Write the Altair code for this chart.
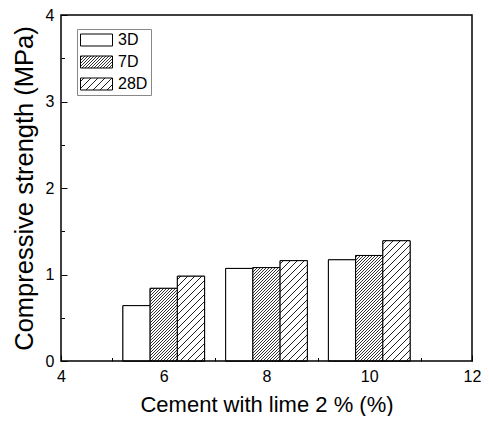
import altair as alt
import pandas as pd
import math

# ---- data ----
cement = [6, 8, 10]
series = ["3D", "7D", "28D"]
strength_3d = [0.64, 1.07, 1.17]
strength_7d = [0.84, 1.08, 1.22]
strength_28d = [0.98, 1.16, 1.39]
x_ticks = [4, 6, 8, 10, 12]
x_minor = [5, 7, 9, 11]
y_ticks = [0, 1, 2, 3, 4]
y_minor = [0.5, 1.5, 2.5, 3.5]
x_domain = [4, 12]
y_domain = [0, 4]

rows = []
for s_i, (name, vals) in enumerate(zip(series, [strength_3d, strength_7d, strength_28d])):
    for c, v in zip(cement, vals):
        rows.append({"cement": c, "series": name, "idx": s_i, "value": v})
df = pd.DataFrame(rows)

# ---- layout / style constants ----
W, H = 411, 346
BAR_W = 0.53                      # bar width in x units
PX_X = W / 8.0
PX_Y = H / 4.0
BW_PX = BAR_W * PX_X
FONT = "Liberation Sans, Arial, sans-serif"

# hatch stripes built as sharp linear-gradient stops (fixed pixel period)
LFIX = 170.0


def stripes(period, lw, color):
    stops = [{"offset": 0, "color": "white"}]
    d = period / 2.0
    while d + lw / 2 < LFIX:
        a = (d - lw / 2) / LFIX
        b = (d + lw / 2) / LFIX
        stops += [{"offset": round(a, 5), "color": "white"},
                  {"offset": round(a, 5), "color": color},
                  {"offset": round(b, 5), "color": color},
                  {"offset": round(b, 5), "color": "white"}]
        d += period
    stops.append({"offset": 1, "color": "white"})
    return stops


SQ2 = math.sqrt(2)
stops7 = alt.param(name="stops7", value=stripes(3.0 / SQ2, 0.8, "#333333"))
stops28 = alt.param(name="stops28", value=stripes(7.0 / SQ2, 0.85, "#222222"))

K = LFIX * SQ2


def grad_expr(w_expr, h_expr, stops_name):
    s = f"({K:.3f}/(pow({w_expr},2)+pow({h_expr},2)))"
    return (f"{{gradient:'linear',x1:0,y1:0,x2:{s}*{w_expr},"
            f"y2:{s}*{h_expr},stops:{stops_name}}}")


h_datum = f"(datum.value*{PX_Y:.4f})"
w_bar = f"{BW_PX:.4f}"
bar_grad = ("datum.series=='7D' ? " + grad_expr(w_bar, h_datum, "stops7") +
            " : datum.series=='28D' ? " + grad_expr(w_bar, h_datum, "stops28") +
            " : 'white'")
leg7 = grad_expr("32", "12", "stops7")
leg28 = grad_expr("32", "12", "stops28")

xscale = alt.Scale(domain=x_domain, nice=False, zero=False)
yscale = alt.Scale(domain=y_domain, nice=False, zero=False)

base = alt.Chart(df).transform_calculate(
    x0=f"datum.cement + (datum.idx - 1.5) * {BAR_W}",
    x1=f"datum.cement + (datum.idx - 1.5) * {BAR_W} + {BAR_W}",
    y0="0",
)

axis_common = dict(domain=False, grid=False, tickColor="black", tickWidth=1,
                   labelColor="black", titleColor="black", labelFont=FONT,
                   titleFont=FONT, titleFontWeight="normal", labelFlush=False,
                   labelOverlap=False, labelBound=False)

main = base.mark_bar(stroke="black", strokeWidth=1).encode(
    x=alt.X("x0:Q", scale=xscale,
            axis=alt.Axis(orient="bottom", offset=-6, tickSize=6, values=x_ticks,
                          labelFontSize=16, labelPadding=7,
                          title="Cement with lime 2 % (%)", titleFontSize=22,
                          titlePadding=10, **axis_common)),
    x2="x1:Q",
    y=alt.Y("value:Q", scale=yscale, stack=None,
            axis=alt.Axis(orient="left", offset=-6, tickSize=6, values=y_ticks,
                          labelFontSize=16, labelPadding=7,
                          title="Compressive strength (MPa)", titleFontSize=25.5,
                          titlePadding=8, **axis_common)),
    y2="y0:Q",
    fill=alt.Fill("series:N",
                  scale=alt.Scale(domain=series,
                                  range=["white", alt.ExprRef(leg7), alt.ExprRef(leg28)]),
                  legend=alt.Legend(title=None, orient="none", legendX=16, legendY=14,
                                    direction="vertical", padding=3,
                                    strokeColor="#888888", fillColor="white",
                                    symbolType="M-1,-0.375H1V0.375H-1Z",
                                    symbolSize=1024, symbolStrokeColor="black",
                                    symbolStrokeWidth=1, symbolOpacity=1,
                                    labelFont=FONT, labelFontSize=16,
                                    labelColor="black", labelOffset=5,
                                    clipHeight=16, rowPadding=6)),
)

hatch = base.transform_calculate(grad=bar_grad).mark_bar(
    stroke="black", strokeWidth=1).encode(
    x=alt.X("x0:Q", scale=xscale,
            axis=alt.Axis(orient="top", offset=-H, tickSize=3.5, values=x_minor,
                          labels=False, title=None, domain=False, grid=False,
                          tickColor="black", tickWidth=1)),
    x2="x1:Q",
    y=alt.Y("value:Q", scale=yscale, stack=None,
            axis=alt.Axis(orient="right", offset=-W, tickSize=3.5, values=y_minor,
                          labels=False, title=None, domain=False, grid=False,
                          tickColor="black", tickWidth=1)),
    y2="y0:Q",
    fill=alt.Fill("grad:N", scale=None, legend=None),
)

frame = alt.Chart(alt.Data(values=[{"f": 1}])).mark_rect(
    filled=False, stroke="black", strokeWidth=1.5).encode(
    x=alt.datum(x_domain[0]), x2=alt.datum(x_domain[1]),
    y=alt.datum(y_domain[0]), y2=alt.datum(y_domain[1]),
)

chart = alt.layer(main, alt.layer(hatch, frame)).add_params(stops7, stops28).resolve_scale(
    x="independent", y="independent"
).properties(
    width=W, height=H,
    autosize=alt.AutoSizeParams(type="none"),
    padding={"left": 53, "top": 7, "right": 9, "bottom": 55},
    background="white",
).configure_view(stroke=None)

chart.save("out.html", embed_options={"renderer": "svg", "actions": False})
